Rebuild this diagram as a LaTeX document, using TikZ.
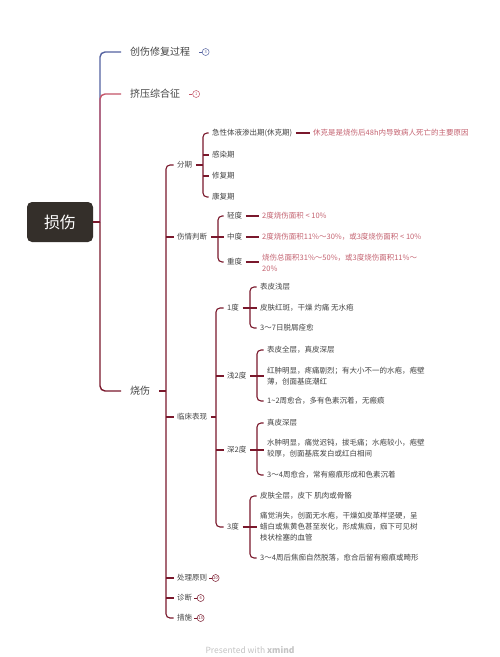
\documentclass[tikz,border=0pt]{standalone}
\usepackage{fontspec}
\setmainfont{Noto Sans CJK SC}
\usepackage{xcolor}
\definecolor{rootbg}{RGB}{52,47,42}
\definecolor{bblue}{RGB}{84,98,160}
\definecolor{pred}{RGB}{196,84,104}
\definecolor{mred}{RGB}{122,24,44}
\definecolor{nred}{RGB}{196,98,112}
\definecolor{tgray}{RGB}{68,68,68}
\definecolor{wmark}{RGB}{196,196,196}
\usepackage{tikz}
\usetikzlibrary{positioning}

\begin{document}
\begin{tikzpicture}[
  x=1pt,y=-1pt,
  rootbox/.style={rectangle,rounded corners=5pt,fill=rootbg,text=white,minimum width=66pt,minimum height=40pt,font=\fontsize{16pt}{18pt}\selectfont},
  mainbr/.style={anchor=west,inner xsep=9pt,text=tgray,font=\fontsize{10pt}{12pt}\selectfont},
  leaf/.style={anchor=west,inner xsep=3.5pt,inner ysep=1pt,align=left,text=tgray,font=\fontsize{7.5pt}{11pt}\selectfont},
  note/.style={leaf,text=nred},
  badge/.style={circle,draw,inner sep=0pt,minimum size=7pt,line width=.5pt,font=\fontsize{4pt}{4pt}\selectfont},
  mline/.style={line width=1.4pt,rounded corners=5pt},
  sline/.style={line width=1.1pt,rounded corners=4pt,mred}
]
  \fill[white] (0,0) rectangle (500,657);
  \useasboundingbox (0,0) rectangle (500,657);

  % root and main branches
  \node[rootbox] (root) at (60,222) {损伤};
  \node[mainbr] (cs) at (121,52) {创伤修复过程};
  \node[mainbr] (jy) at (121,94) {挤压综合征};
  \node[mainbr] (sh) at (121,391) {烧伤};
  \node[badge,bblue,right=2.5pt of cs] (cs-n) {3};
  \node[badge,pred,right=3pt of jy] (jy-n) {1};

  % 烧伤
  \node[leaf] (fq) at (173.5,165) {分期};
  \node[leaf] (sq) at (173.5,237) {伤情判断};
  \node[leaf] (lc) at (173.5,417) {临床表现};
  \node[leaf] (cl) at (173.5,578) {处理原则};
  \node[leaf] (zd) at (173.5,598) {诊断};
  \node[leaf] (cs2) at (173.5,618) {措施};
  \node[badge,mred,right=1pt of cl] (cl-n) {20};
  \node[badge,mred,right=1pt of zd] (zd-n) {6};
  \node[badge,mred,right=1pt of cs2] (cs2-n) {13};

  % 分期
  \node[leaf] (a1) at (208.5,133) {急性体液渗出期(休克期)};
  \node[leaf] (a2) at (208.5,155) {感染期};
  \node[leaf] (a3) at (208.5,176) {修复期};
  \node[leaf] (a4) at (208.5,197) {康复期};
  \node[note] (n1) at (309.5,133) {休克是是烧伤后48h内导致病人死亡的主要原因};

  % 伤情判断
  \node[leaf] (b1) at (223.5,216) {轻度};
  \node[leaf] (b2) at (223.5,237) {中度};
  \node[leaf] (b3) at (223.5,262) {重度};
  \node[note] (m1) at (258.5,216) {2度烧伤面积 < 10\%};
  \node[note] (m2) at (258.5,237) {2度烧伤面积11\%～30\%，或3度烧伤面积 < 10\%};
  \node[note] (m3) at (258.5,262.5) {烧伤总面积31\%～50\%，或3度烧伤面积11\%～\\20\%};

  % 临床表现
  \node[leaf] (c1) at (223.5,308) {1度};
  \node[leaf] (c2) at (223.5,376) {浅2度};
  \node[leaf] (c3) at (223.5,450) {深2度};
  \node[leaf] (c4) at (223.5,527) {3度};

  \node[leaf] (d1) at (256.5,287) {表皮浅层};
  \node[leaf] (d2) at (256.5,308) {皮肤红斑，干燥 灼痛 无水疱};
  \node[leaf] (d3) at (256.5,328) {3～7日脱屑痊愈};

  \node[leaf] (e1) at (263.5,350) {表皮全层，真皮深层};
  \node[leaf] (e2) at (263.5,376.5) {红肿明显，疼痛剧烈；有大小不一的水疱，疱壁\\薄，创面基底潮红};
  \node[leaf] (e3) at (263.5,401) {1\textasciitilde 2周愈合，多有色素沉着，无瘢痕};

  \node[leaf] (f1) at (263.5,423) {真皮深层};
  \node[leaf] (f2) at (263.5,448.5) {水肿明显，痛觉迟钝，拔毛痛；水疱较小，疱壁\\较厚，创面基底发白或红白相间};
  \node[leaf] (f3) at (263.5,475) {3～4周愈合，常有瘢痕形成和色素沉着};

  \node[leaf] (g1) at (256.5,496) {皮肤全层，皮下 肌肉或骨骼};
  \node[leaf] (g2) at (256.5,527) {痛觉消失，创面无水疱，干燥如皮革样坚硬，呈\\蜡白或焦黄色甚至炭化，形成焦痂，痂下可见树\\枝状栓塞的血管};
  \node[leaf] (g3) at (256.5,558) {3～4周后焦痂自然脱落，愈合后留有瘢痕或畸形};

  \node[text=wmark,font=\fontsize{8.5pt}{10pt}\selectfont] (wm) at (250,650) {Presented with \textbf{xmind}};

  % connectors
  \coordinate (rt) at (100,222);
  \draw[mline,bblue] (rt) |- (cs.west);
  \draw[mline,pred] (rt) |- (jy.west);
  \draw[mline,mred] (rt) |- (sh.west);
  \draw[mline,mred] (root.east) -- (rt);
  \draw[bblue,line width=.5pt] (cs-n.west) -- ++(-3,0);
  \draw[pred,line width=.5pt] (jy-n.west) -- ++(-3,0);
  \foreach \b in {cl-n,zd-n,cs2-n}
    \draw[mred,line width=.5pt] (\b.west) -- ++(-3,0);

  \coordinate (st) at (166,391);
  \draw[sline] (sh.east) -- (st);
  \draw[sline] (fq.west) -| (st) |- (cs2.west);
  \foreach \n in {sq,lc,cl,zd}
    \draw[sline] (st |- \n.west) -- (\n.west);

  \coordinate (fqt) at (203,165);
  \draw[sline] (fq.east) -- (fqt);
  \draw[sline] (a1.west) -| (fqt) |- (a4.west);
  \draw[sline] (fqt |- a2.west) -- (a2.west);
  \draw[sline] (fqt |- a3.west) -- (a3.west);
  \draw[sline] (a1.east) -- (n1.west);

  \coordinate (sqt) at (218,237);
  \draw[sline] (sq.east) -- (sqt);
  \draw[sline] (b1.west) -| (sqt) |- (b3.west);
  \draw[sline] (sqt) -- (b2.west);
  \draw[sline] (b1.east) -- (m1.west);
  \draw[sline] (b2.east) -- (m2.west);
  \draw[sline] (b3.east) -- (b3.east -| m3.west);

  \coordinate (lct) at (216,417);
  \draw[sline] (lc.east) -- (lct);
  \draw[sline] (c1.west) -| (lct) |- (c4.west);
  \draw[sline] (lct |- c2.west) -- (c2.west);
  \draw[sline] (lct |- c3.west) -- (c3.west);

  \coordinate (c1t) at (250,308);
  \draw[sline] (c1.east) -- (c1t);
  \draw[sline] (d1.west) -| (c1t) |- (d3.west);
  \draw[sline] (c1t) -- (d2.west);

  \coordinate (c2t) at (257,376);
  \draw[sline] (c2.east) -- (c2t);
  \draw[sline] (e1.west) -| (c2t) |- (e3.west);
  \draw[sline] (c2t) -- (c2t -| e2.west);

  \coordinate (c3t) at (257,450);
  \draw[sline] (c3.east) -- (c3t);
  \draw[sline] (f1.west) -| (c3t) |- (f3.west);
  \draw[sline] (c3t) -- (c3t -| f2.west);

  \coordinate (c4t) at (250,527);
  \draw[sline] (c4.east) -- (c4t);
  \draw[sline] (g1.west) -| (c4t) |- (g3.west);
  \draw[sline] (c4t) -- (g2.west);
\end{tikzpicture}
\end{document}
